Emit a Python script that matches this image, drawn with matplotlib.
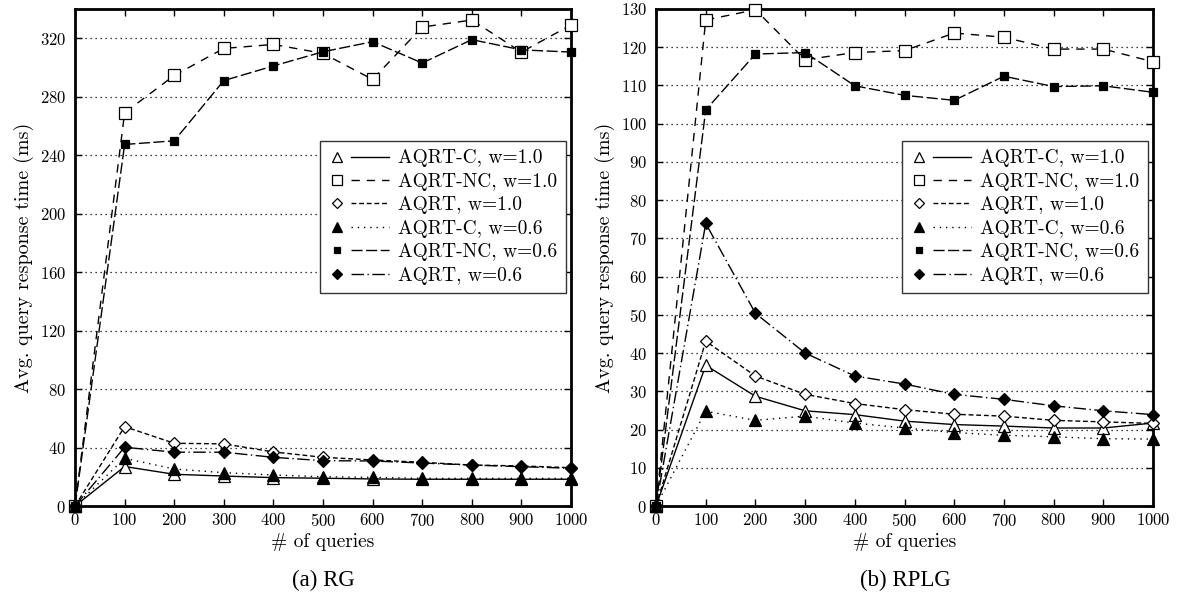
import matplotlib
matplotlib.use("Agg")
import matplotlib.pyplot as plt
from matplotlib.legend_handler import HandlerBase
from matplotlib.lines import Line2D

plt.rcParams['font.family'] = ['cmr10', 'DejaVu Serif']
plt.rcParams['axes.formatter.use_mathtext'] = True

queries = [0, 100, 200, 300, 400, 500, 600, 700, 800, 900, 1000]

labels = ["AQRT-C, w=1.0", "AQRT-NC, w=1.0", "AQRT, w=1.0",
          "AQRT-C, w=0.6", "AQRT-NC, w=0.6", "AQRT, w=0.6"]

# RG
rg_c_10 = [0, 27, 21.7, 20.5, 19.4, 19, 18.5, 18.3, 18.3, 18.3, 18.3]
rg_nc_10 = [0, 269, 294.5, 313, 315.7, 309.6, 291.8, 327.6, 332.4, 310.5, 329]
rg_aqrt_10 = [0, 54.3, 42.9, 42.5, 37, 33.3, 31.5, 29.9, 28, 27.4, 26.2]
rg_c_06 = [0, 32.6, 25.3, 22.8, 21.2, 20, 19.6, 18.9, 18.9, 18.9, 18.9]
rg_nc_06 = [0, 247.3, 249.8, 291, 301, 310.7, 317.6, 303, 319, 312, 310.5]
rg_aqrt_06 = [0, 40.2, 36.8, 36.8, 33.3, 31, 30.8, 29.4, 28, 26.9, 25.8]

# RPLG
rplg_c_10 = [0, 36.8, 28.7, 24.9, 23.9, 22.2, 21.3, 20.9, 20.4, 20.4, 21.7]
rplg_nc_10 = [0, 127.1, 129.8, 116.7, 118.6, 119.1, 123.7, 122.6, 119.5, 119.5, 116.2]
rplg_aqrt_10 = [0, 43.1, 34, 29.2, 26.8, 25.2, 24, 23.5, 22.4, 22, 21.6]
rplg_c_06 = [0, 24.8, 22.4, 23.5, 21.7, 20.4, 19.2, 18.5, 18.1, 17.6, 17.5]
rplg_nc_06 = [0, 103.6, 118.2, 118.6, 109.9, 107.4, 106.1, 112.4, 109.7, 109.9, 108.2]
rplg_aqrt_06 = [0, 73.9, 50.4, 40, 34, 31.9, 29.2, 27.9, 26.2, 24.9, 23.9]

# marker, facecolor, size, dash pattern
styles = [
    ('^', 'white', 8, '-'),
    ('s', 'white', 8.5, (0, (6, 5))),
    ('D', 'white', 6, (0, (3.5, 2))),
    ('^', 'black', 8, (0, (1, 3.5))),
    ('s', 'black', 5.5, (0, (8, 2.5))),
    ('D', 'black', 6.5, (0, (9, 2.5, 1, 2.5))),
]


class MarkerThenLine(HandlerBase):
    """Legend entry: the marker on the left, a short line sample after it."""

    def create_artists(self, legend, orig_handle, xdescent, ydescent,
                       width, height, fontsize, trans):
        mk, ln = orig_handle
        y = height / 2 - ydescent
        x0 = -xdescent
        m = Line2D([x0 + 0.13 * width], [y])
        m.update_from(mk)
        l = Line2D([x0 + 0.37 * width, x0 + width], [y, y])
        l.update_from(ln)
        m.set_transform(trans)
        l.set_transform(trans)
        return [l, m]


fig = plt.figure(figsize=(11.78, 5.96), dpi=100)
ax1 = fig.add_axes([0.0637, 0.151, 0.421, 0.834])
ax2 = fig.add_axes([0.5569, 0.151, 0.4219, 0.834])


def draw_panel(ax, series, ymax, ystep):
    for ys, (m, fc, ms, ls) in zip(series, styles):
        ax.plot(queries, ys, color='black', linestyle=ls, linewidth=1.0,
                marker=m, markerfacecolor=fc, markeredgecolor='black',
                markersize=ms, markeredgewidth=0.9, clip_on=False, zorder=3)
    ax.set_xlim(0, 1000)
    ax.set_ylim(0, ymax)
    ax.set_xticks(queries)
    ax.set_yticks(range(0, int(ymax) + 1, ystep))
    ax.tick_params(direction='in', top=True, right=True, length=5,
                   width=1, labelsize=12)
    ax.tick_params(axis='x', pad=4)
    ax.tick_params(axis='y', pad=6.5)
    for sp in ax.spines.values():
        sp.set_linewidth(2)
    ax.yaxis.grid(True, color='black', linestyle=(0, (1, 3)), linewidth=0.9)
    ax.set_axisbelow(True)
    ax.set_xlabel('# of queries', fontsize=14, labelpad=3)
    ax.set_ylabel('Avg. query response time (ms)', fontsize=14.5, labelpad=4)

    handles = []
    for m, fc, ms, ls in styles:
        mk = Line2D([], [], linestyle='none', marker=m, markerfacecolor=fc,
                    markeredgecolor='black', markersize=ms * 0.85,
                    markeredgewidth=0.9)
        ln = Line2D([], [], color='black', linestyle=ls, linewidth=1.0)
        handles.append((mk, ln))
    leg = ax.legend(handles, labels, loc='upper right',
                    bbox_to_anchor=(0.99, 0.735),
                    handler_map={tuple: MarkerThenLine()},
                    handlelength=3.1, fontsize=14, frameon=True,
                    fancybox=False, edgecolor='#333333', framealpha=1,
                    borderpad=0.45, labelspacing=0.28, handletextpad=0.45,
                    borderaxespad=0)
    leg.get_frame().set_linewidth(1)
    leg.set_zorder(5)


draw_panel(ax1, [rg_c_10, rg_nc_10, rg_aqrt_10, rg_c_06, rg_nc_06, rg_aqrt_06],
           340, 40)
draw_panel(ax2, [rplg_c_10, rplg_nc_10, rplg_aqrt_10, rplg_c_06, rplg_nc_06,
                 rplg_aqrt_06], 130, 10)
ax1.set_yticks(range(0, 321, 40))

fig.text(323 / 1178, 1 - 580 / 596, '(a) RG', ha='center', va='center',
         fontsize=16.5, family='Liberation Serif')
fig.text(905 / 1178, 1 - 580 / 596, '(b) RPLG', ha='center', va='center',
         fontsize=16.5, family='Liberation Serif')

fig.savefig('out.png', dpi=100)
